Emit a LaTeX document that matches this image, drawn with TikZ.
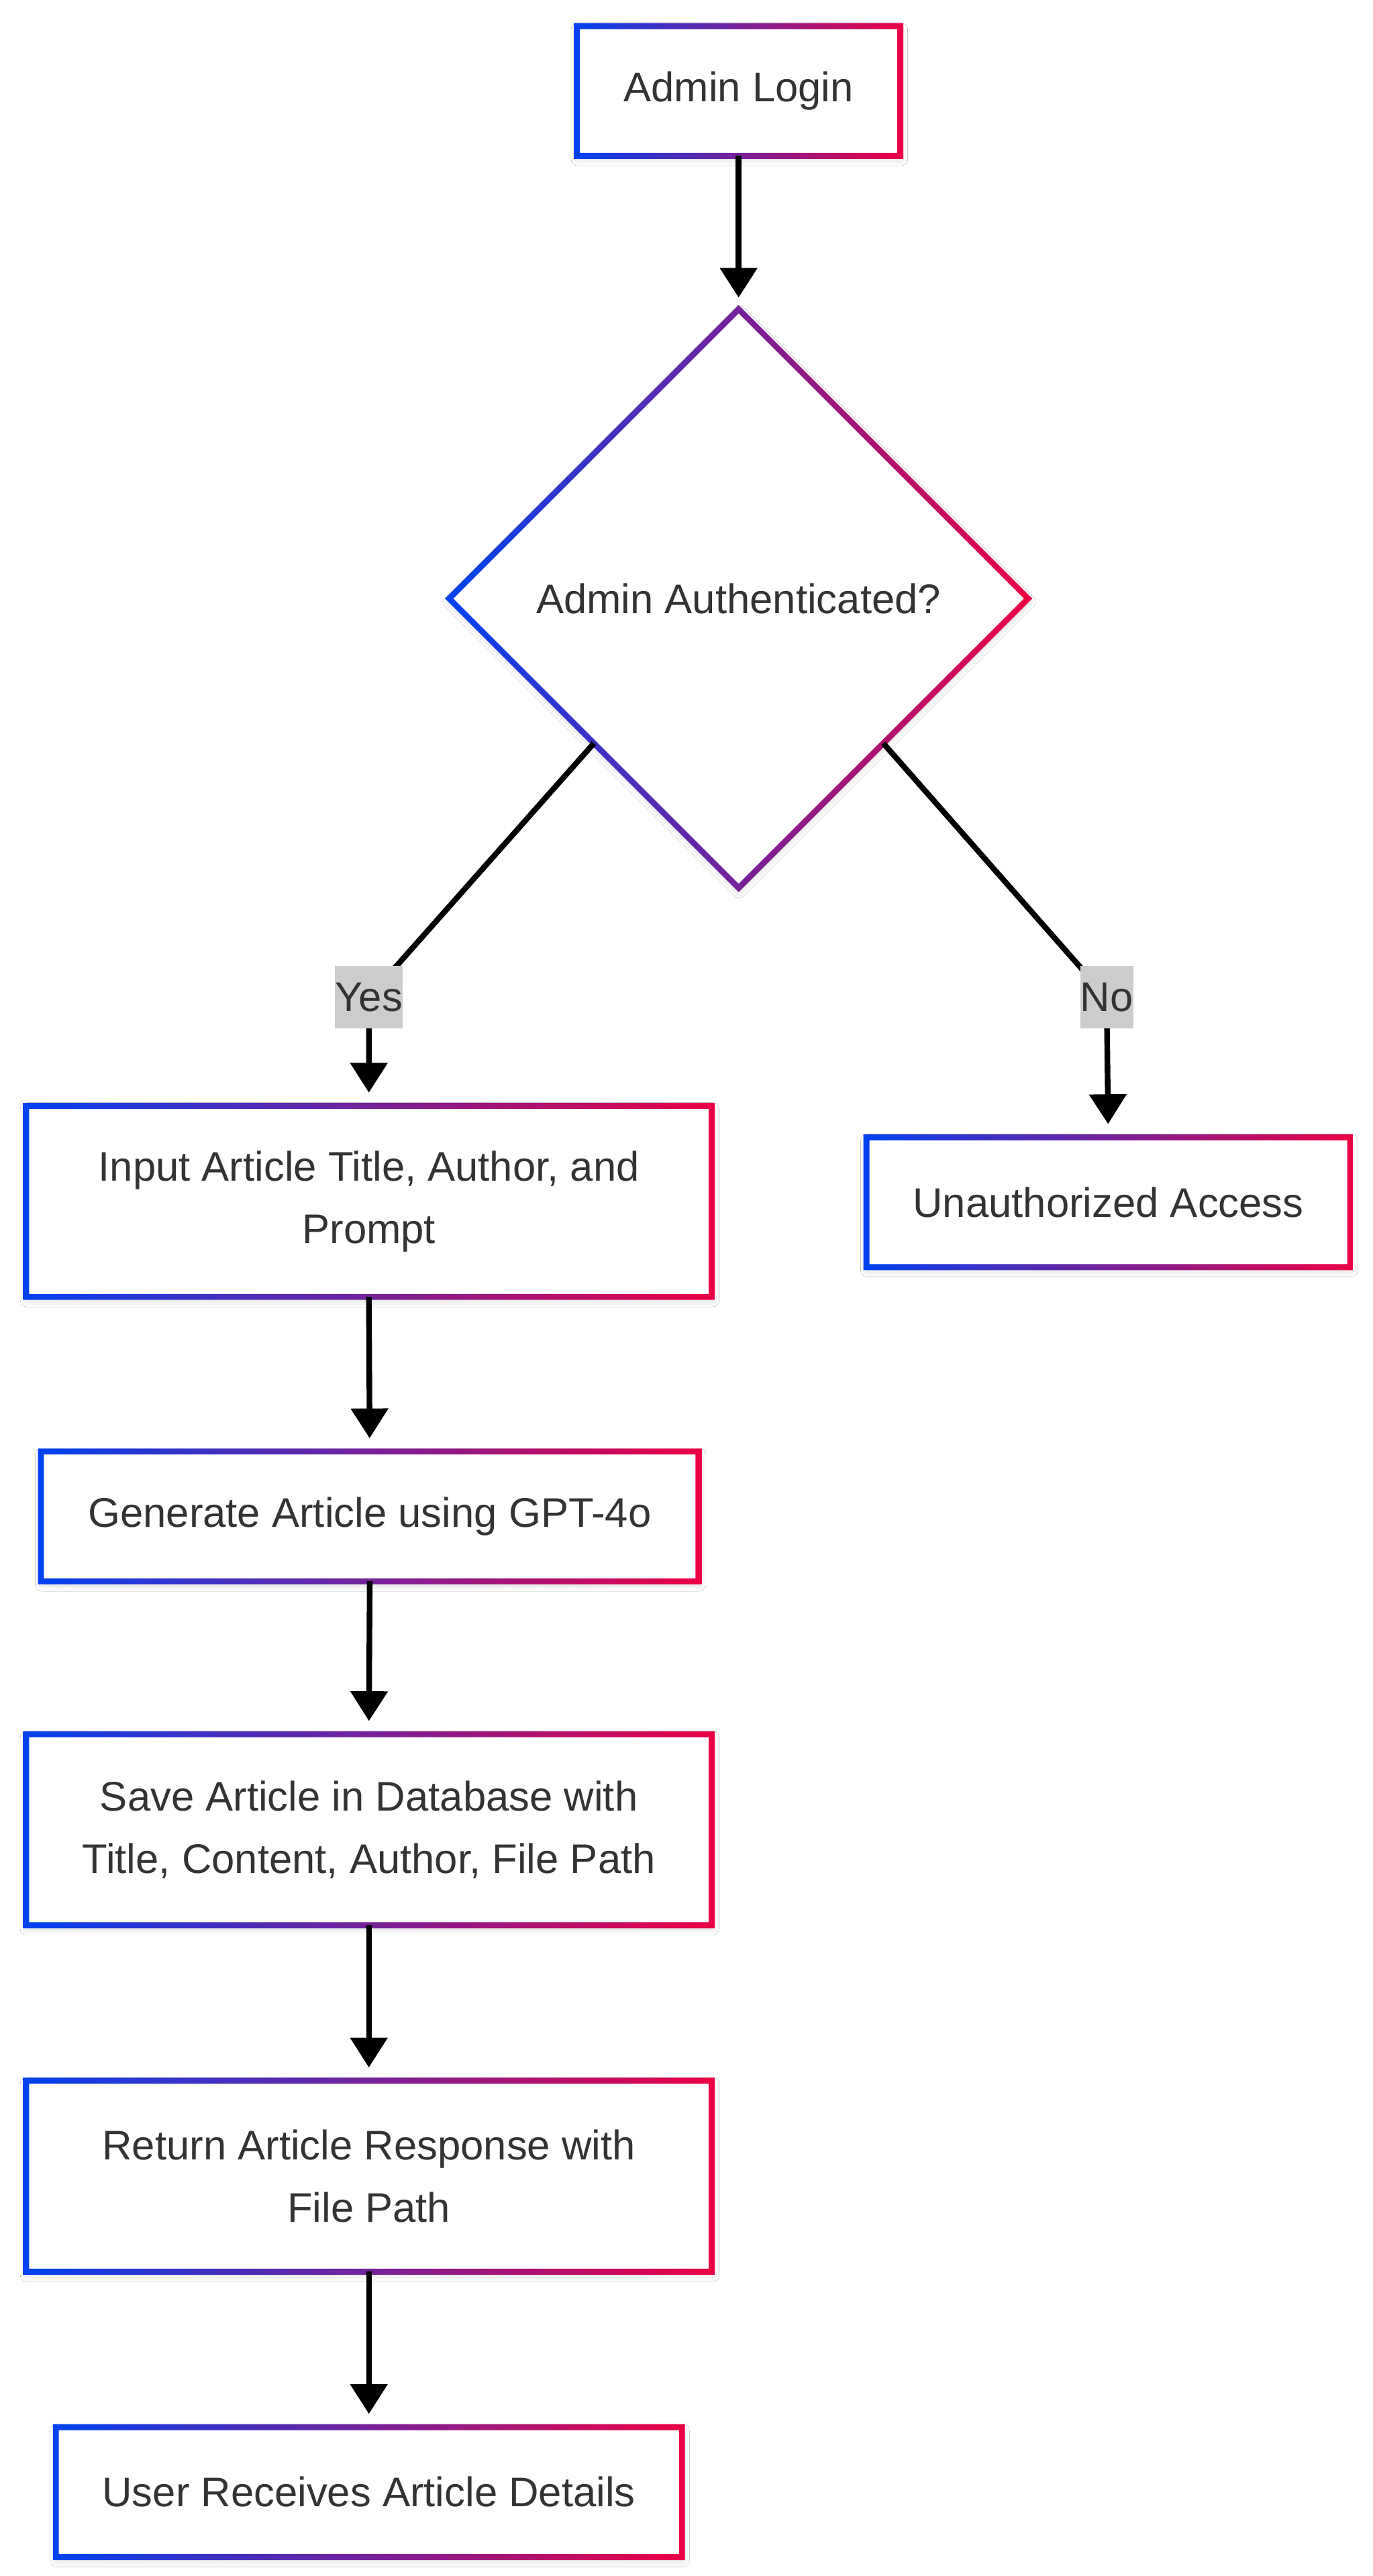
\documentclass[tikz,border=0pt]{standalone}
\usepackage{fontspec}
\setmainfont{Liberation Sans}
\usetikzlibrary{arrows.meta,shapes.geometric,shadows.blur}
\definecolor{gblue}{RGB}{0,66,240}
\definecolor{gred}{RGB}{236,0,68}
\definecolor{txtgray}{RGB}{51,51,51}
\definecolor{lblgray}{RGB}{204,204,204}
\newcommand\gradrect[1]{%
  \shade[left color=gblue,right color=gred,even odd rule]
    ([shift={(-1.8pt,1.8pt)}]#1.north west) -- ([shift={(1.8pt,1.8pt)}]#1.north east) --
    ([shift={(1.8pt,-1.8pt)}]#1.south east) -- ([shift={(-1.8pt,-1.8pt)}]#1.south west) -- cycle
    ([shift={(1.8pt,-1.8pt)}]#1.north west) -- ([shift={(1.8pt,1.8pt)}]#1.south west) --
    ([shift={(-1.8pt,1.8pt)}]#1.south east) -- ([shift={(-1.8pt,-1.8pt)}]#1.north east) -- cycle;}
\newcommand\graddiam[1]{%
  \shade[left color=gblue,right color=gred,even odd rule]
    ([yshift=2.5pt]#1.north) -- ([xshift=2.5pt]#1.east) -- ([yshift=-2.5pt]#1.south) -- ([xshift=-2.5pt]#1.west) -- cycle
    ([yshift=-2.5pt]#1.north) -- ([xshift=2.5pt]#1.west) -- ([yshift=2.5pt]#1.south) -- ([xshift=-2.5pt]#1.east) -- cycle;}
\begin{document}
\begin{tikzpicture}[x=1pt,y=-1pt,
  nodebase/.style={fill=white, draw=none, outer sep=0pt, inner sep=0pt, align=center,
    text=txtgray, font=\fontsize{25}{37.5}\selectfont,
    blur shadow={shadow xshift=0.5pt, shadow yshift=-2pt, shadow blur radius=4pt, shadow opacity=18}},
  box/.style={nodebase, rectangle},
  dec/.style={nodebase, diamond, minimum width=350pt, minimum height=350pt},
  flow/.style={draw=black, line width=3.4pt, -{Triangle[width=22pt,length=18pt]}, shorten >=8pt},
  lbl/.style={fill=lblgray, text=txtgray, inner xsep=0pt, inner ysep=0pt, minimum height=37.5pt,
    font=\fontsize{25}{37.5}\selectfont}
]
\fill[white] (0,0) rectangle (830,1557.8);
\useasboundingbox (0,0) rectangle (830,1557.8);

\node[box, minimum width=195.5pt, minimum height=78.5pt] (login) at (446.5,55) {Admin Login};
\node[dec] (auth) at (446.5,362) {Admin Authenticated?};
\node[box, minimum width=414.5pt, minimum height=115.5pt] (input) at (223,726.5) {Input Article Title, Author, and\\Prompt};
\node[box, minimum width=292.5pt, minimum height=78.5pt] (unauth) at (670,727) {Unauthorized Access};
\node[box, minimum width=397.5pt, minimum height=78.5pt] (gen) at (223.5,917) {Generate Article using GPT-4o};
\node[box, minimum width=414.5pt, minimum height=115.5pt] (save) at (223,1106.5) {Save Article in Database with\\Title, Content, Author, File Path};
\node[box, minimum width=414.5pt, minimum height=115.5pt] (ret) at (223,1316) {Return Article Response with\\File Path};
\node[box, minimum width=378.5pt, minimum height=78.5pt] (user) at (223,1507) {User Receives Article Details};

\gradrect{login}
\graddiam{auth}
\gradrect{input}
\gradrect{unauth}
\gradrect{gen}
\gradrect{save}
\gradrect{ret}
\gradrect{user}

\coordinate (yc) at (223,603);
\coordinate (nc) at (669,603);

\draw[flow, shorten >=7pt] (login.south) -- (auth.north);
\draw[flow] (auth.south west) -- (yc) -- (input.north);
\draw[flow] (auth.south east) -- (nc) -- (unauth.north);
\draw[flow] (input.south) -- (gen.north);
\draw[flow] (gen.south) -- (save.north);
\draw[flow] (save.south) -- (ret.north);
\draw[flow] (ret.south) -- (user.north);

\node[lbl] (yes) at (yc) {Yes};
\node[lbl] (no) at (nc) {No};
\end{tikzpicture}
\end{document}
